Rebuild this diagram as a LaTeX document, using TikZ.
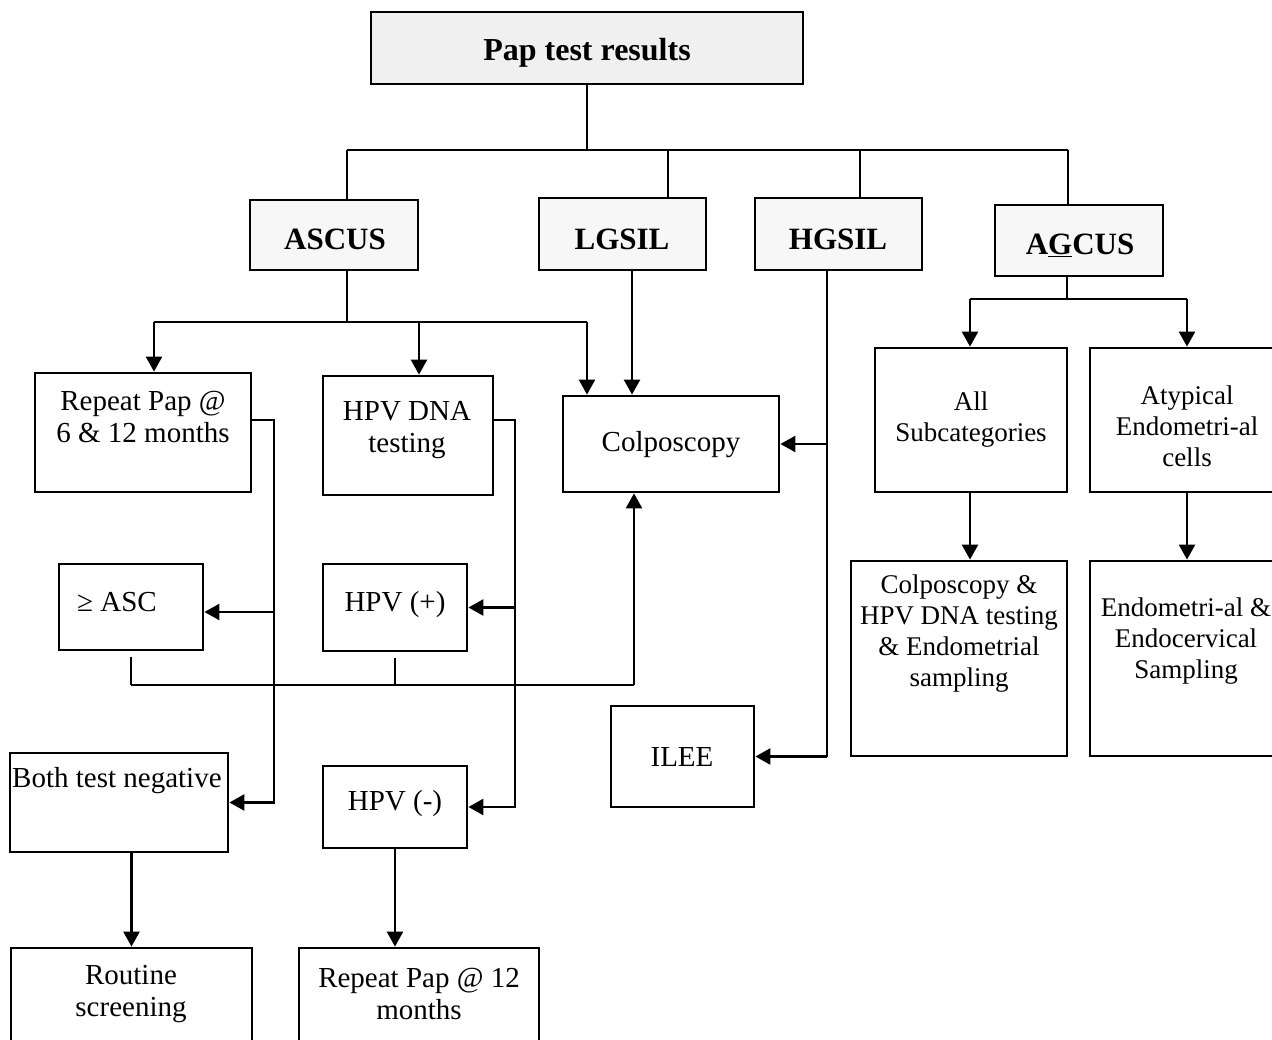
\documentclass[tikz,border=0pt]{standalone}
\usepackage{fontspec}
\setmainfont{Liberation Serif}
\usetikzlibrary{arrows.meta}
\begin{document}
\begin{tikzpicture}[x=1pt,y=-1pt,
  box/.style={draw, line width=2.8pt, rectangle, inner sep=0pt},
  headbox/.style={box, fill=gray!12},
  catbox/.style={box, fill=gray!6},
  txt/.style={align=center, inner sep=0pt, font=\fontsize{29}{31.5}\selectfont},
  stxt/.style={align=center, inner sep=0pt, font=\fontsize{27}{31}\selectfont},
  btxt/.style={align=center, inner sep=0pt, font=\fontsize{31}{33}\selectfont\bfseries},
  line/.style={line width=2.5pt},
  arr/.style={line width=2.5pt, -{Triangle[length=15pt,width=16pt]}}]
\clip (0,0) rectangle (1272,1040);
% box with corners (x1,y1)-(x2,y2)
\newcommand{\boxnode}[6]{%
  \node[#1, minimum width={#5-#3}, minimum height={#6-#4}] (#2) at ({(#3+#5)/2},{(#4+#6)/2}) {};}

% ---- top level ----
\boxnode{headbox}{pap}{371}{12}{803}{84}
\node[btxt, font=\fontsize{32}{34}\selectfont\bfseries] (pap-t) at (587,53) {Pap test results};

% ---- categories ----
\boxnode{catbox}{ascus}{250}{200}{418}{270}
\boxnode{catbox}{lgsil}{539}{198}{706}{270}
\boxnode{catbox}{hgsil}{755}{198}{922}{270}
\boxnode{catbox}{agcus}{995}{205}{1163}{276}
\node[btxt] (ascus-t) at (335,239) {ASCUS};
\node[btxt] (lgsil-t) at (622,239) {LGSIL};
\node[btxt] (hgsil-t) at (838,239) {HGSIL};
\node[btxt] (agcus-t) at (1080,245) {A\underline{G}CUS};

% ---- ASCUS branch ----
\boxnode{box}{rp}{35}{373}{251}{492}
\node[txt] (rp-t) at (143,417) {Repeat Pap @\\6 \& 12 months};
\boxnode{box}{hpvdna}{323}{376}{493}{495}
\node[txt] (hpvdna-t) at (407,430) {HPV DNA\\testing};
\boxnode{box}{asc}{59}{564}{203}{650}
\node[txt] (asc-t) at (117,602) {≥ ASC};
\boxnode{box}{hpos}{323}{564}{467}{651}
\node[txt] (hpos-t) at (395,605) {HPV (+)};
\boxnode{box}{both}{10}{753}{228}{852}
\node[txt, anchor=west] (both-t) at (12,781) {Both test negative};
\boxnode{box}{hneg}{323}{766}{467}{848}
\node[txt] (hneg-t) at (395,804) {HPV (-)};
\boxnode{box}{routine}{11}{948}{252}{1060}
\node[txt] (routine-t) at (131,994) {Routine\\screening};
\boxnode{box}{rp12}{299}{948}{539}{1060}
\node[txt] (rp12-t) at (419,994) {Repeat Pap @ 12\\months};

% ---- LGSIL / HGSIL ----
\boxnode{box}{colpo}{563}{396}{779}{492}
\node[txt] (colpo-t) at (671,445) {Colposcopy};
\boxnode{box}{ilee}{611}{706}{754}{807}
\node[txt] (ilee-t) at (682,757) {ILEE};

% ---- AGCUS branch ----
\boxnode{box}{allsub}{875}{348}{1067}{492}
\node[stxt] (allsub-t) at (971,420) {All\\Subcategories};
\boxnode{box}{atyp}{1090}{348}{1285}{492}
\node[stxt] (atyp-t) at (1187,426) {Atypical\\Endometri-al\\cells};
\boxnode{box}{colhpv}{851}{561}{1067}{756}
\node[stxt] (colhpv-t) at (959,634) {Colposcopy \&\\HPV DNA testing\\\& Endometrial\\sampling};
\boxnode{box}{endo}{1090}{561}{1285}{756}
\node[stxt] (endo-t) at (1186,641) {Endometri-al \&\\Endocervical\\Sampling};

% ---- connectors: top tree ----
\coordinate (tL) at (347,150);
\coordinate (tR) at (1068,150);
\coordinate (tLG) at (668,150);
\coordinate (tHG) at (860,150);
\draw[line] (pap.south) -- (pap.south |- tL);
\draw[line] (tL) -- (tR);
\draw[line] (tL) -- (tL |- ascus.north);
\draw[line] (tLG) -- (tLG |- lgsil.north);
\draw[line] (tHG) -- (tHG |- hgsil.north);
\draw[line] (tR) -- (tR |- agcus.north);

% ASCUS split
\coordinate (aM) at (347,322);
\coordinate (aL) at (154,322);
\coordinate (aH) at (419,322);
\coordinate (aR) at (587,322);
\draw[line] (aM |- ascus.south) -- (aM);
\draw[line] (aL) -- (aR);
\draw[arr] (aL) -- (aL |- rp.north);
\draw[arr] (aH) -- (aH |- hpvdna.north);
\draw[arr] (aR) -- (aR |- colpo.north);

% LGSIL to colposcopy
\coordinate (lg) at (632,0);
\draw[arr] (lgsil.south -| lg) -- (colpo.north -| lg);

% HGSIL to colposcopy and ILEE
\coordinate (hg) at (827,0);
\draw[line] (hgsil.south -| hg) -- (ilee.east -| hg);
\draw[arr] (colpo.east -| hg) -- (colpo.east);
\draw[arr] (ilee.east -| hg) -- (ilee.east);

% repeat Pap outcomes
\coordinate (rx) at (274,420);
\coordinate (ascin) at (274,612);
\draw[arr] (rp.east |- rx) -- (rx) -- (rx |- both.east) -- (both.east);
\draw[arr] (ascin) -- (ascin -| asc.east);

% HPV DNA outcomes
\coordinate (hx) at (515,420);
\draw[arr] (hpvdna.east |- hx) -- (hx) -- (hx |- hneg.east) -- (hneg.east);
\draw[arr] (hx |- hpos.east) -- (hpos.east);

% positive results back to colposcopy
\coordinate (bL) at (131,685);
\coordinate (bR) at (634,685);
\draw[line, shorten <=6pt] (asc.south) -- (asc.south |- bL);
\draw[line, shorten <=6pt] (hpos.south) -- (hpos.south |- bL);
\draw[line] (bL) -- (bR);
\draw[arr] (bR) -- (bR |- colpo.south);

% negative results
\draw[arr] (routine.north |- both.south) -- (routine.north);
\draw[arr] (hneg.south) -- (hneg.south |- rp12.north);

% AGCUS split
\coordinate (gM) at (1067,299);
\coordinate (gL) at (970,299);
\coordinate (gR) at (1187,299);
\draw[line] (gM |- agcus.south) -- (gM);
\draw[line] (gL) -- (gR);
\draw[arr] (gL) -- (gL |- allsub.north);
\draw[arr] (gR) -- (gR |- atyp.north);
\draw[arr] (allsub.south -| gL) -- (colhpv.north -| gL);
\draw[arr] (atyp.south -| gR) -- (endo.north -| gR);
\end{tikzpicture}
\end{document}
